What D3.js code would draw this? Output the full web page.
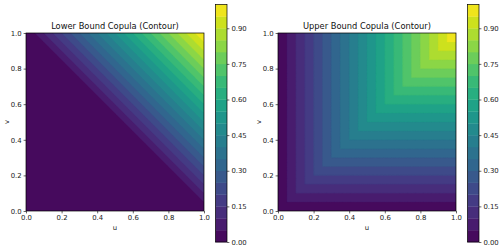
<!DOCTYPE html>
<html>
<head>
<meta charset="utf-8">
<script src="https://cdn.jsdelivr.net/npm/d3@7"></script>
<style>
	body { margin: 0; background: #fff; }
	svg { display: block; font-family: "DejaVu Sans", sans-serif; }
</style>
</head>
<body>
<svg id="chart" width="500" height="250"></svg>
<script>
(function() {

	// Titles of the two panels, left to right
	const titles = ["Lower Bound Copula (Contour)", "Upper Bound Copula (Contour)"];
	// Filled contour levels (contourf, 20 bands)
	const levels = [0.00, 0.05, 0.10, 0.15, 0.20, 0.25, 0.30, 0.35, 0.40, 0.45,
		0.50, 0.55, 0.60, 0.65, 0.70, 0.75, 0.80, 0.85, 0.90, 0.95, 1.00];
	const axisTicks = [0.0, 0.2, 0.4, 0.6, 0.8, 1.0];
	const cbarTicks = [0.00, 0.15, 0.30, 0.45, 0.60, 0.75, 0.90];
	// u and v are sampled on an evenly spaced grid of this many points per side
	const gridPoints = 201;

	// Frechet-Hoeffding bounds, the surfaces being contoured
	const copulas = [
		(u, v) => Math.max(u + v - 1, 0),
		(u, v) => Math.min(u, v)
	];

	const svg = d3.select("#chart");
	svg.append("rect").attr("width", 500).attr("height", 250).attr("fill", "#fff");

	const panelX = [26, 278];
	const plotSize = 178;
	const plotTop = 33;
	const cbarGap = 11.5;
	const cbarWidth = 11.5;
	const cbarTop = 4.5;
	const cbarBottom = 242;

	const color = i => d3.interpolateViridis((levels[i] + levels[i + 1]) / 2);

	titles.forEach((title, p) => drawPanel(p, title));

	function drawPanel(p, title) {
		let left = panelX[p];
		let g = svg.append("g");

		let x = d3.scaleLinear().domain([0, 1]).range([left, left + plotSize]);
		let y = d3.scaleLinear().domain([0, 1]).range([plotTop + plotSize, plotTop]);

		// grid of copula values, row j = v, column i = u
		let n = gridPoints;
		let values = new Array(n * n);
		for (let j = 0; j < n; j++) {
			for (let i = 0; i < n; i++) {
				values[j * n + i] = copulas[p](i / (n - 1), j / (n - 1));
			}
		}

		// d3.contours puts sample k at k + 0.5
		let cx = d3.scaleLinear().domain([0.5, n - 0.5]).range([x(0), x(1)]);
		let cy = d3.scaleLinear().domain([0.5, n - 0.5]).range([y(0), y(1)]);
		let path = d3.geoPath(d3.geoTransform({
			point: function(a, b) { this.stream.point(cx(a), cy(b)); }
		}));

		let bands = d3.contours().size([n, n]).thresholds(levels.slice(0, -1))(values);

		let clipId = "clip" + p;
		g.append("clipPath").attr("id", clipId)
			.append("rect")
			.attr("x", x(0)).attr("y", y(1))
			.attr("width", plotSize).attr("height", plotSize);

		g.append("g")
			.attr("clip-path", "url(#" + clipId + ")")
			.selectAll("path")
			.data(bands)
			.join("path")
			.attr("d", path)
			.attr("fill", (d, i) => color(i))
			.attr("stroke", (d, i) => color(i))
			.attr("stroke-width", 0.3);

		// frame
		g.append("rect")
			.attr("x", x(0)).attr("y", y(1))
			.attr("width", plotSize).attr("height", plotSize)
			.attr("fill", "none").attr("stroke", "#000").attr("stroke-width", 0.7);

		let xAxis = g.append("g")
			.attr("transform", "translate(0," + y(0) + ")")
			.call(d3.axisBottom(x).tickValues(axisTicks).tickFormat(d3.format(".1f")).tickSize(2.4).tickPadding(2));
		let yAxis = g.append("g")
			.attr("transform", "translate(" + x(0) + ",0)")
			.call(d3.axisLeft(y).tickValues(axisTicks).tickFormat(d3.format(".1f")).tickSize(2.4).tickPadding(2));
		styleAxis(xAxis);
		styleAxis(yAxis);

		g.append("text")
			.attr("x", x(0.5)).attr("y", 229.5)
			.attr("text-anchor", "middle")
			.attr("font-size", 6.9).attr("fill", "#222")
			.text("u");
		g.append("text")
			.attr("transform", "translate(" + (left - 17.5) + "," + y(0.5) + ") rotate(-90)")
			.attr("text-anchor", "middle")
			.attr("font-size", 6.9).attr("fill", "#222")
			.text("v");

		g.append("text")
			.attr("x", x(0.5)).attr("y", plotTop - 4)
			.attr("text-anchor", "middle")
			.attr("font-size", 8.3).attr("fill", "#111")
			.text(title);

		drawColorbar(g, left + plotSize + cbarGap);
	}

	function drawColorbar(g, left) {
		let c = d3.scaleLinear().domain([levels[0], levels[levels.length - 1]]).range([cbarBottom, cbarTop]);

		g.append("g").selectAll("rect")
			.data(levels.slice(0, -1))
			.join("rect")
			.attr("x", left)
			.attr("y", (d, i) => c(levels[i + 1]))
			.attr("width", cbarWidth)
			.attr("height", (d, i) => c(levels[i]) - c(levels[i + 1]) + 0.3)
			.attr("fill", (d, i) => color(i));

		g.append("rect")
			.attr("x", left).attr("y", cbarTop)
			.attr("width", cbarWidth).attr("height", cbarBottom - cbarTop)
			.attr("fill", "none").attr("stroke", "#000").attr("stroke-width", 0.7);

		let axis = g.append("g")
			.attr("transform", "translate(" + (left + cbarWidth) + ",0)")
			.call(d3.axisRight(c).tickValues(cbarTicks).tickFormat(d3.format(".2f")).tickSize(2.4).tickPadding(2));
		styleAxis(axis);
	}

	function styleAxis(a) {
		a.select(".domain").remove();
		a.selectAll(".tick line").attr("stroke", "#000").attr("stroke-width", 0.6);
		a.selectAll(".tick text")
			.attr("font-size", 6.9)
			.attr("font-family", "DejaVu Sans, sans-serif")
			.attr("fill", "#222");
	}
})();
</script>
</body>
</html>
